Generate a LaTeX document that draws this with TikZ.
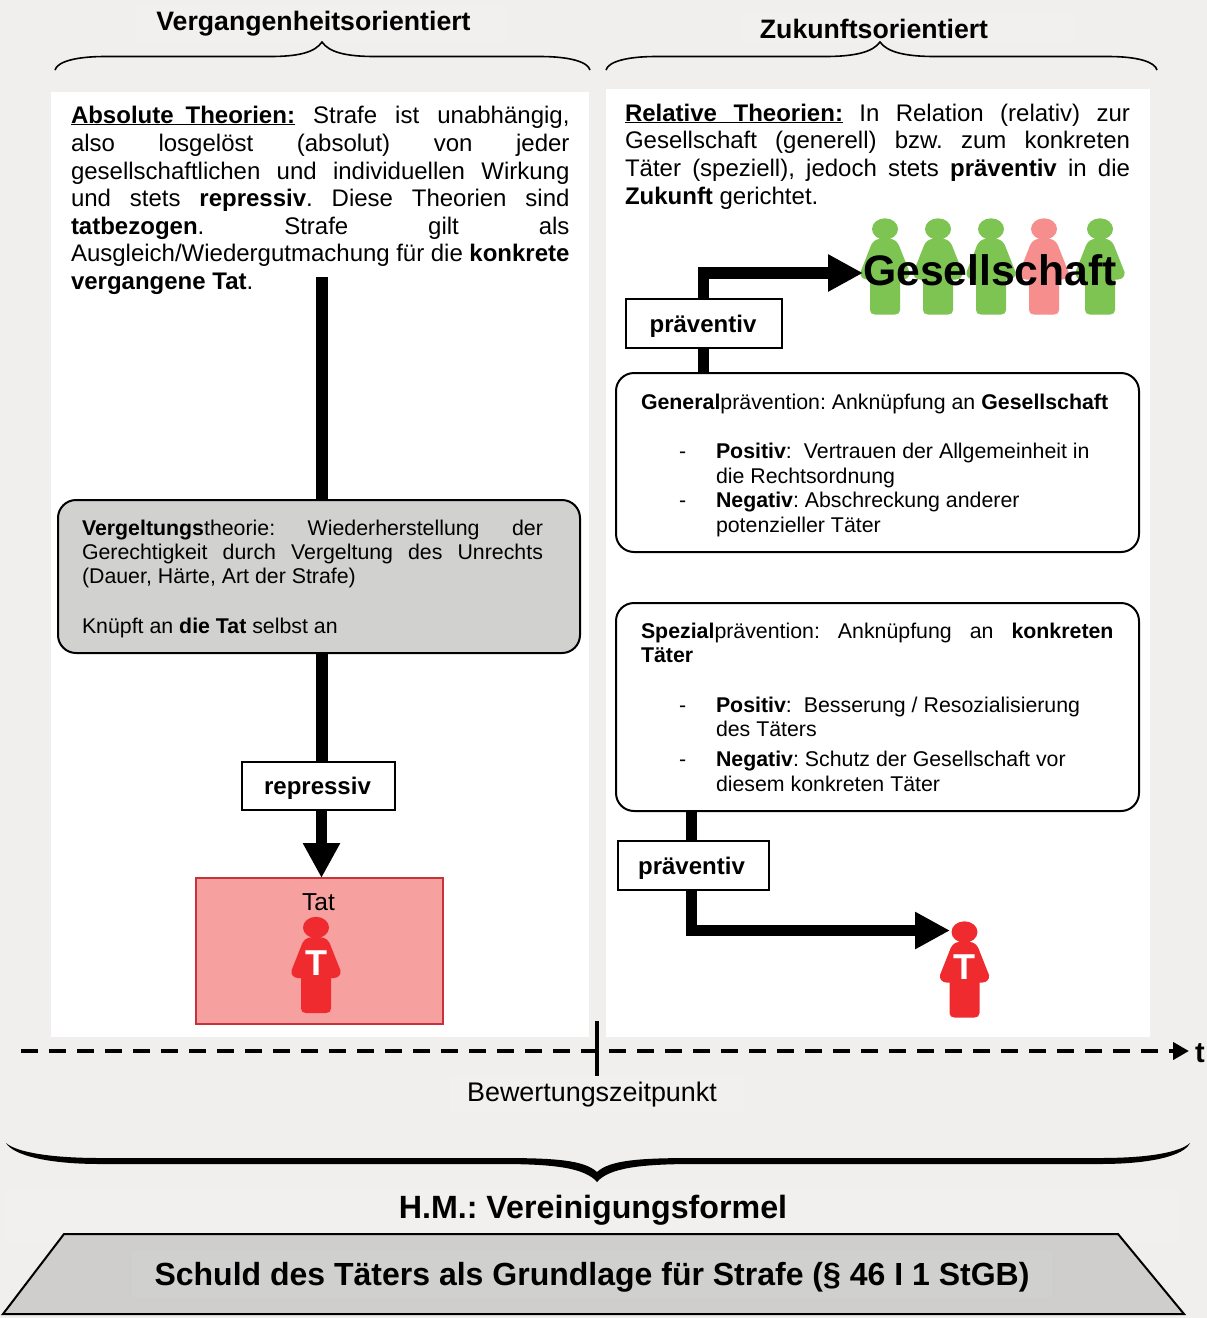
\documentclass[tikz,border=0pt]{standalone}
\usepackage{fontspec}
\setmainfont{Liberation Sans}
\usetikzlibrary{arrows.meta}
\definecolor{bgc}{HTML}{F0EFEE}
\definecolor{bgfaint}{HTML}{F1F0EF}
\definecolor{greybox}{HTML}{D1D1D0}
\definecolor{trapc}{HTML}{CFCECD}
\definecolor{trapfaint}{HTML}{D0D0CF}
\definecolor{tatfill}{HTML}{F7A0A0}
\definecolor{tatline}{HTML}{C8323C}
\definecolor{pgreen}{HTML}{7DC452}
\definecolor{psalmon}{HTML}{F58E8C}
\definecolor{pred}{HTML}{F02B30}
\newcommand{\fsz}[1]{\fontsize{#1}{#1}\selectfont\frenchspacing}
\newcommand{\txt}[4]{\node[tline] (#1) at (#2,#3) {#4};}
\newcommand{\jl}[5]{\node[tline] (#1) at (#2,#3) {\hbox to #4pt{#5}};}
\newcommand{\ul}[2]{\underline{\hbox to #1pt{#2}}}
\newcommand{\boxlab}[2]{\hspace*{#1pt}\raisebox{-8.7pt}[0pt][0pt]{#2}}
\tikzset{
  x=1pt,y=-1pt,
  tline/.style={anchor=base west,inner sep=0pt,outer sep=0pt,font=\fsz{24}},
  small/.style={tline/.append style={font=\fsz{21.33}}},
  rbox/.style={draw=black,line width=2pt,rounded corners=18pt,inner sep=0pt,outer sep=0pt,anchor=north west},
  lbox/.style={draw=black,line width=2pt,fill=white,inner sep=0pt,outer sep=0pt,font=\fsz{24}\bfseries},
  bar/.style={line width=11.5pt,draw=black},
  barhead/.style={bar,-{Triangle[length=35pt,width=35pt]}},
  brace/.style={draw=black,line width=1.6pt},
  head/.style={font=\fsz{26.67}\bfseries,inner sep=0pt,outer sep=0pt},
  person/.pic={
    \fill[pic actions] (0,0) ellipse [x radius=13,y radius=10.7];
    \fill[pic actions] (-8,10.5) .. controls (-3,9) and (3,9) .. (8,10.5)
      .. controls (11,11.5) and (14,15) .. (15,19) -- (24.5,43)
      .. controls (25.5,47) and (22,50.5) .. (18,50.5) -- (15,50.5) -- (15,81)
      .. controls (15,84) and (13,85.5) .. (10,85.5) -- (-10,85.5)
      .. controls (-13,85.5) and (-15,84) .. (-15,81) -- (-15,50.5) -- (-18,50.5)
      .. controls (-22,50.5) and (-25.5,47) .. (-24.5,43) -- (-15,19)
      .. controls (-14,15) and (-11,11.5) .. (-8,10.5) -- cycle;
  }
}
\begin{document}
\begin{tikzpicture}
\useasboundingbox (0,0) rectangle (1207,1318);
\fill[bgc] (0,0) rectangle (1207,1318);
% faint text-box backdrops
\fill[bgfaint] (135,4) rectangle (507,42);
\fill[bgfaint] (740,12) rectangle (1075,44);
\fill[bgfaint] (450,1075) rectangle (745,1111);
\fill[bgfaint] (5,1188) rectangle (1180,1243);
% panels
\fill[white] (51,92) rectangle (589,1037);
\fill[white] (606,89) rectangle (1150,1037);
% headings and braces
\node[head] (hv) at (313.5,24) {Vergangenheitsorientiert};
\node[head] (hz) at (874,29) {Zukunftsorientiert};
\draw[brace] (55,70) .. controls (57,62) and (75,56.5) .. (105,56.5) -- (270,56.5) .. controls (300,56.5) and (315,52) .. (322,42)
  .. controls (329,52) and (345,56.5) .. (375,56.5) -- (540,56.5) .. controls (570,56.5) and (588,62) .. (590,70);
\draw[brace] (606,70) .. controls (608,62) and (626,56.5) .. (656,56.5) -- (825,56.5) .. controls (855,56.5) and (873,52) .. (880,42)
  .. controls (887,52) and (905,56.5) .. (935,56.5) -- (1108,56.5) .. controls (1138,56.5) and (1155,62) .. (1157,70);
% left connectors
\coordinate (barL) at (322,277);
\coordinate (barLb) at (321.5,800);
\node[rbox,fill=greybox,minimum width=522pt,minimum height=153pt] (grey) at (58,500) {};
\node[lbox,minimum width=153pt,minimum height=48pt] (rep) at (318.5,786) {\boxlab{-2}{repressiv}};
\node[draw=tatline,line width=2pt,fill=tatfill,anchor=north west,minimum width=247pt,minimum height=146pt,inner sep=0pt,outer sep=0pt] (tat) at (195.5,878) {};
\draw[bar] (barL) -- (barL |- grey.north);
\draw[bar] (barL |- grey.south) -- (barL |- rep.north);
\draw[barhead] (barLb |- rep.south) -- (barLb |- tat.north);
% left text
\jl{a1}{71}{123}{498.5}{\ul{224}{\textbf{Absolute}\hfill\textbf{Theorien:}} Strafe ist unabhängig,}
\jl{a2}{71}{151}{498.5}{also losgelöst (absolut) von jeder}
\jl{a3}{71}{179}{498.5}{gesellschaftlichen und individuellen Wirkung}
\jl{a4}{71}{206}{498.5}{und stets \textbf{repressiv}. Diese Theorien sind}
\jl{a5}{71}{234}{498.5}{\textbf{tatbezogen}. Strafe gilt als}
\jl{a6}{71}{261}{498.5}{Ausgleich/Wiedergutmachung für die \textbf{konkrete}}
\txt{a7}{71}{289}{\textbf{vergangene Tat}.}
\begin{scope}[small]
\jl{v1}{82}{535}{461}{\textbf{Vergeltungs}theorie: Wiederherstellung der}
\jl{v2}{82}{559}{461}{Gerechtigkeit durch Vergeltung des Unrechts}
\txt{v3}{82}{583}{(Dauer, Härte, Art der Strafe)}
\txt{v4}{82}{633}{Knüpft an \textbf{die Tat} selbst an}
\end{scope}
\node[inner sep=0pt,font=\fsz{24.5}] (tatlabel) at (318.5,902) {Tat};
\pic[fill=pred] (tp) at (316,927.5) {person};
\node[inner sep=0pt,font=\fsz{36}\bfseries,text=white] (tT) at (316,963) {T};
% right connectors
\node[rbox,fill=white,minimum width=523pt,minimum height=179pt] (gen) at (616,373) {};
\node[rbox,fill=white,minimum width=523pt,minimum height=208pt] (spez) at (616,603) {};
\node[lbox,minimum width=156pt,minimum height=49pt] (pr1) at (704,323.5) {\boxlab{-2}{präventiv}};
\node[lbox,minimum width=151pt,minimum height=49pt] (pr2) at (693.5,865.5) {\boxlab{-4}{präventiv}};
\pic[fill=pgreen] (g1) at (885,229) {person};
\pic[fill=pgreen] (g2) at (938,229) {person};
\pic[fill=pgreen] (g3) at (991,229) {person};
\pic[fill=psalmon] (g4) at (1044,229) {person};
\pic[fill=pgreen] (g5) at (1100,229) {person};
\coordinate (gsoc) at (863,273);
\coordinate (barR) at (703.5,273);
\coordinate (barS) at (691.5,930.5);
\coordinate (tR) at (950,930.5);
\node[inner sep=0pt,font=\fsz{42.67}\bfseries] (gtext) at (990,270.5) {Gesellschaft};
\draw[bar] (barR |- gen.north) -- (barR |- pr1.south);
\draw[barhead] (barR |- pr1.north) -- (barR) -- (gsoc);
\draw[bar] (barS |- spez.south) -- (barS |- pr2.north);
\draw[barhead] (barS |- pr2.south) -- (barS) -- (tR);
% right text
\jl{r1}{625}{121}{505}{\ul{218}{\textbf{Relative}\hfill\textbf{Theorien:}} In Relation (relativ) zur}
\jl{r2}{625}{148}{505}{Gesellschaft (generell) bzw. zum konkreten}
\jl{r3}{625}{176}{505}{Täter (speziell), jedoch stets \textbf{präventiv} in die}
\txt{r4}{625}{204}{\textbf{Zukunft} gerichtet.}
\begin{scope}[small]
\txt{g0}{641}{409}{\textbf{General}prävention: Anknüpfung an \textbf{Gesellschaft}}
\txt{gd1}{679}{458}{-}
\txt{gt1}{716}{458}{\textbf{Positiv}:\hspace{12pt}Vertrauen der Allgemeinheit in}
\txt{gt2}{716}{483}{die Rechtsordnung}
\txt{gd2}{679}{507}{-}
\txt{gt3}{716}{507}{\textbf{Negativ}: Abschreckung anderer}
\txt{gt4}{716}{532}{potenzieller Täter}
\jl{s0}{641}{638}{472.5}{\textbf{Spezial}prävention: Anknüpfung an \textbf{konkreten}}
\txt{s1}{641}{662}{\textbf{Täter}}
\txt{sd1}{679}{712}{-}
\txt{st1}{716}{712}{\textbf{Positiv}:\hspace{12pt}Besserung / Resozialisierung}
\txt{st2}{716}{736}{des Täters}
\txt{sd2}{679}{766}{-}
\txt{st3}{716}{766}{\textbf{Negativ}: Schutz der Gesellschaft vor}
\txt{st4}{716}{791}{diesem konkreten Täter}
\end{scope}
\pic[fill=pred] (tq) at (964.5,932) {person};
\node[inner sep=0pt,font=\fsz{36}\bfseries,text=white] (tT2) at (964.5,967) {T};
% timeline
\coordinate (tS) at (21,1051);
\coordinate (tE) at (1189,1051);
\coordinate (tickA) at (597,1021);
\coordinate (tickB) at (597,1076);
\draw[line width=4pt,dash pattern=on 17pt off 11pt,-{Triangle[length=16pt,width=17pt]}] (tS) -- (tE);
\draw[line width=4pt] (tickA) -- (tickB);
\node[tline,font=\fsz{29}\bfseries] (tl) at (1195,1062) {t};
\node[inner sep=0pt,font=\fsz{26.9}] (bew) at (592,1095) {Bewertungszeitpunkt};
% big brace
\fill[black] (6,1143) .. controls (14,1156) and (50,1164) .. (100,1164) -- (500,1164) .. controls (555,1164) and (585,1168) .. (597,1182)
  .. controls (609,1168) and (640,1164) .. (695,1164) -- (1100,1164) .. controls (1150,1164) and (1184,1156) .. (1190,1143)
  .. controls (1180,1152) and (1150,1158) .. (1100,1158) -- (695,1158) .. controls (640,1158) and (610,1160) .. (597,1172)
  .. controls (584,1160) and (555,1158) .. (500,1158) -- (100,1158) .. controls (50,1158) and (16,1152) .. (6,1143) -- cycle;
\node[inner sep=0pt,font=\fsz{32.2}\bfseries] (hm) at (593,1210.5) {H.M.: Vereinigungsformel};
\draw[black,line width=2pt,fill=trapc] (64,1234) -- (1118,1234) -- (1184,1314) -- (3,1314) -- cycle;
\fill[trapfaint] (132,1250) rectangle (1052,1297);
\node[inner sep=0pt,font=\fsz{32}\bfseries] (schuld) at (592,1277) {Schuld des Täters als Grundlage für Strafe (§ 46 I 1 StGB)};
\end{tikzpicture}
\end{document}
